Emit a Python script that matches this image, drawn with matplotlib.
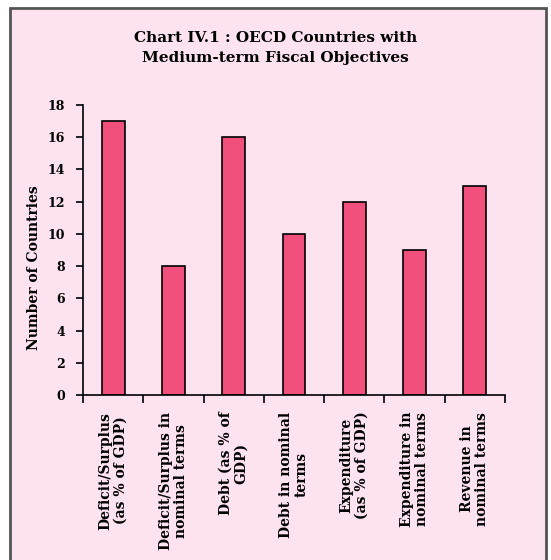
import matplotlib
matplotlib.use("Agg")
import matplotlib.pyplot as plt
from matplotlib.patches import Rectangle

objectives = [
    "Deficit/Surplus\n(as % of GDP)",
    "Deficit/Surplus in\nnominal terms",
    "Debt (as % of\nGDP)",
    "Debt in nominal\nterms",
    "Expenditure\n(as % of GDP)",
    "Expenditure in\nnominal terms",
    "Revenue in\nnominal terms",
]
countries = [17, 8, 16, 10, 12, 9, 13]
y_ticks = list(range(0, 19, 2))

plt.rcParams['font.family'] = ['DejaVu Serif']
plt.rcParams['font.weight'] = 'bold'

fig = plt.figure(figsize=(5.51, 5.60), dpi=100)
fig.patch.set_facecolor("white")

# pink panel with a dark frame, kept behind the axes
W, H = 551, 560
panel = Rectangle((10 / W, 1 - 570 / H), 536 / W, 562 / H, transform=fig.transFigure,
                  facecolor="#fde2ef", edgecolor="#555555", linewidth=2, zorder=-5)
fig.patches.append(panel)

fig.text(0.5, 1 - 48 / H, "Chart IV.1 : OECD Countries with\nMedium-term Fiscal Objectives",
         ha="center", va="center", fontsize=11, fontweight="bold", linespacing=1.5)

ax = fig.add_axes([83 / W, 1 - 395 / H, 422 / W, 290 / H])
ax.patch.set_alpha(0)

x = range(len(objectives))
ax.bar(x, countries, width=0.38, color="#f2507c", edgecolor="black", linewidth=1.2)

ax.set_xlim(-0.5, len(objectives) - 0.5)
ax.set_ylim(0, 18)
ax.set_yticks(y_ticks)
ax.set_yticklabels([str(v) for v in y_ticks], fontsize=9, fontweight="bold")
ax.set_xticks([i - 0.5 for i in range(len(objectives) + 1)])
ax.set_xticklabels([])
ax.set_xticks(list(x), minor=True)
ax.set_xticklabels(objectives, minor=True, rotation=90, fontsize=10,
                   fontweight="bold", va="top", ha="center", linespacing=1.1)
ax.tick_params(axis="x", which="minor", length=0, pad=12)
ax.tick_params(axis="x", which="major", length=6, width=1.2, direction="out")
ax.tick_params(axis="y", length=5, width=1.2, pad=8)

ax.spines["top"].set_visible(False)
ax.spines["right"].set_visible(False)
ax.spines["left"].set_linewidth(1.2)
ax.spines["bottom"].set_linewidth(1.2)

ax.set_ylabel("Number of Countries", fontsize=10, fontweight="bold")
ax.yaxis.set_label_coords(-0.10, 0.44)

fig.savefig("out.png", dpi=100, facecolor="white")
